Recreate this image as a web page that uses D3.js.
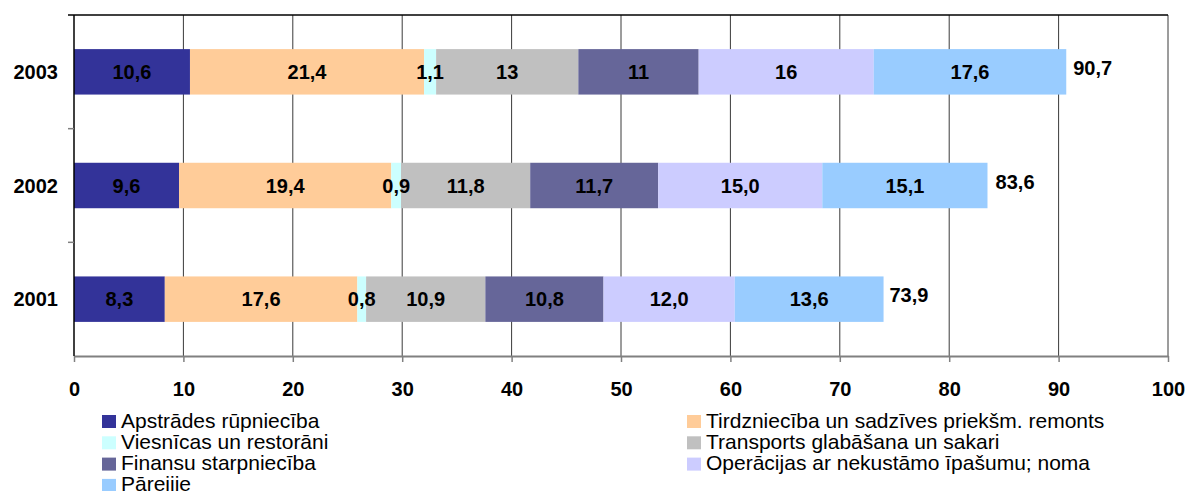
<!DOCTYPE html>
<html>
<head>
<meta charset="utf-8">
<script src="https://cdn.jsdelivr.net/npm/d3@7/dist/d3.min.js"></script>
<style>
  html, body { margin: 0; padding: 0; background: #fff; }
  svg { display: block; font-family: Arial, "Liberation Sans", sans-serif; }
</style>
</head>
<body>
<svg id="chart" width="1187" height="491"></svg>
<script>
// ---- data ----
const years = ["2003", "2002", "2001"];
const seriesNames = [
  "Apstrādes rūpniecība",
  "Tirdzniecība un sadzīves priekšm. remonts",
  "Viesnīcas un restorāni",
  "Transports glabāšana un sakari",
  "Finansu starpniecība",
  "Operācijas ar nekustāmo īpašumu; noma",
  "Pāreijie"
];
const values2003 = [10.6, 21.4, 1.1, 13, 11, 16, 17.6];
const values2002 = [9.6, 19.4, 0.9, 11.8, 11.7, 15.0, 15.1];
const values2001 = [8.3, 17.6, 0.8, 10.9, 10.8, 12.0, 13.6];
const labels2003 = ["10,6", "21,4", "1,1", "13", "11", "16", "17,6"];
const labels2002 = ["9,6", "19,4", "0,9", "11,8", "11,7", "15,0", "15,1"];
const labels2001 = ["8,3", "17,6", "0,8", "10,9", "10,8", "12,0", "13,6"];
const totals = [90.7, 83.6, 73.9];
const totalLabels = ["90,7", "83,6", "73,9"];
const xTicks = [0, 10, 20, 30, 40, 50, 60, 70, 80, 90, 100];
const colors = ["#333399", "#FFCC99", "#CCFFFF", "#C0C0C0", "#666699", "#CCCCFF", "#99CCFF"];

const valuesByYear = [values2003, values2002, values2001];
const labelsByYear = [labels2003, labels2002, labels2001];

(function () {
// ---- layout ----
const svg = d3.select("#chart");
const pLeft = 74, pRight = 1168, pTop = 15, pBottom = 356;

const x = d3.scaleLinear().domain([0, 100]).range([pLeft, pRight]);
const y = d3.scaleBand().domain(years).range([pTop, pBottom]).paddingInner(0.6).paddingOuter(0.3);

// gridlines
svg.append("g").selectAll("line").data(xTicks.slice(1)).join("line")
  .attr("x1", d => x(d)).attr("x2", d => x(d))
  .attr("y1", pTop).attr("y2", pBottom)
  .attr("stroke", "#3a3a3a").attr("stroke-width", 1);

// top border
svg.append("line").attr("x1", pLeft - 6).attr("x2", pRight).attr("y1", pTop).attr("y2", pTop)
  .attr("stroke", "#000").attr("stroke-width", 1.5);

// stacked bars
const rows = years.map((yr, i) => {
  let acc = 0;
  return valuesByYear[i].map((v, k) => {
    const seg = { year: yr, k, x0: acc, x1: acc + v, label: labelsByYear[i][k] };
    acc += v;
    return seg;
  });
});

const barG = svg.append("g");
rows.forEach(segs => {
  barG.append("g").selectAll("rect").data(segs).join("rect")
    .attr("x", d => x(d.x0))
    .attr("width", d => x(d.x1) - x(d.x0))
    .attr("y", d => y(d.year))
    .attr("height", y.bandwidth())
    .attr("fill", d => colors[d.k]);
});
rows.forEach(segs => {
  barG.append("g").selectAll("text").data(segs).join("text")
    .attr("x", d => (x(d.x0) + x(d.x1)) / 2)
    .attr("y", d => y(d.year) + y.bandwidth() / 2)
    .attr("dy", "0.35em")
    .attr("text-anchor", "middle")
    .attr("font-size", 20).attr("font-weight", "bold")
    .attr("fill", "#000")
    .text(d => d.label);
});

// totals
svg.append("g").selectAll("text").data(years).join("text")
  .attr("x", (d, i) => x(totals[i]) + 7)
  .attr("y", d => y(d) + y.bandwidth() / 2 - 4)
  .attr("dy", "0.35em")
  .attr("font-size", 20).attr("font-weight", "bold")
  .text((d, i) => totalLabels[i]);

// x axis
const xAxis = svg.append("g").attr("transform", `translate(0,${pBottom})`)
  .call(d3.axisBottom(x).tickValues(xTicks).tickSize(6).tickSizeOuter(0).tickPadding(20));
xAxis.select(".domain").attr("stroke", "#808080").attr("stroke-width", 2);
xAxis.selectAll(".tick line").attr("stroke", "#808080").attr("stroke-width", 1.5);
xAxis.selectAll(".tick text").attr("font-size", 20).attr("font-weight", "bold")
  .attr("font-family", "Arial, 'Liberation Sans', sans-serif").attr("fill", "#000");

// y axis
svg.append("line").attr("x1", pLeft).attr("x2", pLeft).attr("y1", pTop).attr("y2", pBottom)
  .attr("stroke", "#000").attr("stroke-width", 1.5);
const yBounds = [y.step() + pTop, 2 * y.step() + pTop];
svg.append("g").selectAll("line").data(yBounds).join("line")
  .attr("x1", pLeft - 6).attr("x2", pLeft).attr("y1", d => d).attr("y2", d => d)
  .attr("stroke", "#808080").attr("stroke-width", 1.5);
svg.append("g").selectAll("text").data(years).join("text")
  .attr("x", 58)
  .attr("y", d => y(d) + y.bandwidth() / 2)
  .attr("dy", "0.35em")
  .attr("text-anchor", "end")
  .attr("font-size", 20).attr("font-weight", "bold")
  .text(d => d);

// legend (row-major, 2 columns)
const legendCols = [102, 687];
const legend = svg.append("g");
seriesNames.forEach((name, k) => {
  const col = k % 2, row = Math.floor(k / 2);
  const base = 427.5 + row * 21.3;
  legend.append("rect")
    .attr("x", legendCols[col]).attr("y", base - 12.5)
    .attr("width", 14).attr("height", 13)
    .attr("fill", colors[k]);
  legend.append("text")
    .attr("x", legendCols[col] + 19).attr("y", base)
    .attr("font-size", 21)
    .attr("fill", "#000")
    .text(name);
});
})();
</script>
</body>
</html>
